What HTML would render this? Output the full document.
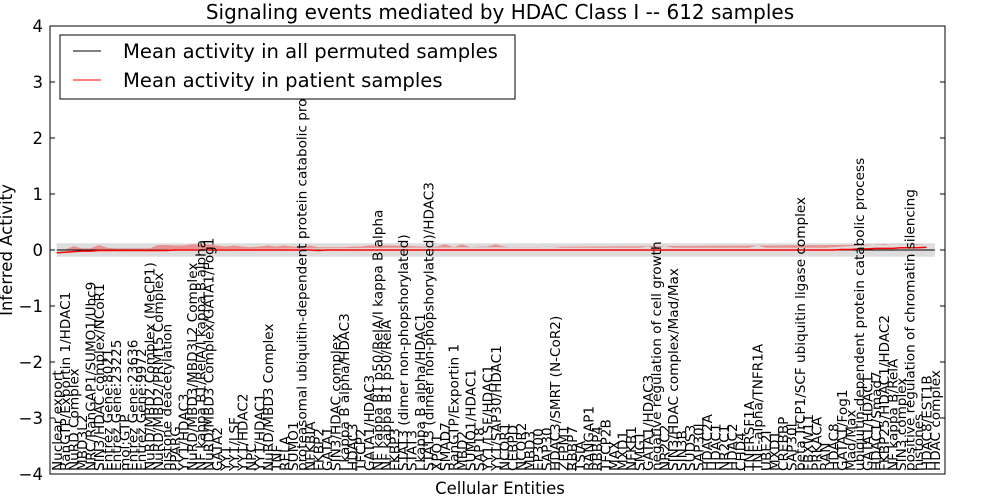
<!DOCTYPE html>
<html><head><meta charset="utf-8"><style>
body{margin:0;background:#fff;}
svg{display:block;font-family:"DejaVu Sans","Liberation Sans",sans-serif;}
</style></head><body>
<svg id="chart" width="1000" height="500">
<rect width="1000" height="500" fill="#fff"/>
<g id="bands"></g><g id="lines"></g><g id="xlabels"></g>
<rect x="0" y="0" width="1000" height="25" fill="#fff"/>
<text x="500" y="19" text-anchor="middle" font-size="20">Signaling events mediated by HDAC Class I -- 612 samples</text>
<rect x="50" y="26" width="895" height="448" fill="none" stroke="#000" stroke-width="1"/>
<g id="yaxis"></g>
<text transform="translate(12,250) rotate(-90)" text-anchor="middle" font-size="16.5">Inferred Activity</text>
<text x="500" y="494" text-anchor="middle" font-size="16.5">Cellular Entities</text>
<g>
<rect x="60" y="35" width="455" height="64" fill="#fff" stroke="#000"/>
<line x1="73" y1="51" x2="101" y2="51" stroke="#000"/>
<text x="123" y="58" font-size="19.6">Mean activity in all permuted samples</text>
<line x1="73" y1="80" x2="101" y2="80" stroke="#f00"/>
<text x="123" y="87" font-size="19.6">Mean activity in patient samples</text>
</g>
</svg>
<script>
const categories=["Nuclear export","RanGTP/Exportin 1/HDAC1","NuRD Complex","MBD3L2","NRC/RanGAP1/SUMO1/Ubc9","SIN3/HDAC complex/NCoR1","Entrez Gene:8021","Entrez Gene:23225","mol:GTP","Entrez Gene:23636","Entrez Gene:9972","NuRD/MBD2 Complex (MeCP1)","NuRD/MBD2/PRMT5 Complex","histone deacetylation","PPARG","YY1/HDAC3","NuRD/MBD3/MBD3L2 Complex","NF kappa B1/RelA/I kappa B alpha","NuRD/MBD3 Complex/GATA1/Fog1","GATA2","YY1","YY1/LSF","YY1/HDAC2","NPC","YY1/HDAC1","NuRD/MBD3 Complex","TNF","RELA","SUMO1","proteasomal ubiquitin-dependent protein catabolic process","NFKBIA","FKBP2","GATA1","SIN3/HDAC complex","I kappa B alpha/HDAC3","HDAC3","TFCP2","GATA1/HDAC3","NF kappa B1 p50/RelA/I kappa B alpha","NF kappa B1 p50/RelA","FKBP3","STAT3 (dimer non-phopshorylated)","STAT3","I kappa B alpha/HDAC1","STAT3 (dimer non-phopshorylated)/HDAC3","XPO1","SMAD7","RanGTP/Exportin 1","MBD2","SUMO1/HDAC1","SAP18","YY1/LSF/HDAC1","YY1/SAP30/HDAC1","NCOR1","CEBPD","NCOR2","MBD3","EP300","SAP30","HDAC3/SMRT (N-CoR2)","ZFPM1","RBBP7","TSIA","RANGAP1","RBBP4","TFCP2B","MAX","MXD1","NFKB1","SMG1","GATA1/HDAC3","negative regulation of cell growth","NR2C2","SIN3/HDAC complex/Mad/Max","SIN3B","SUDS3","SAP30L","HDAC2A","HDAC1","NR2C1","HDAC2","CHD4","TNFRSF1A","TNF-alpha/TNFR1A","UBE2I","MXD1","CREBBP","SAP30L","beta TrCP1/SCF ubiquitin ligase complex","FBXW11","PRKACA","RAN","HDAC8","GATA1/Fog1","Mad/Max","ubiquitin-dependent protein catabolic process","GATA1/HDAC1","HDAC1/Smad7","FKBP25/HDAC1/HDAC2","NF kappa B/RelA","SIN3 complex","positive regulation of chromatin silencing","histones","HDAC8/EST1B","HDAC complex"];
const patientMean=[-0.05,-0.04,-0.03,-0.02,-0.02,-0.01,-0.01,-0.01,-0.01,-0.01,-0.01,-0.01,-0.01,-0.01,0,0,0,0,0,0,0,0,0,0,0,0,0,0,0,0,0,-0.01,0,0,0,0,0,0,0,0,0,0,0,0,0,0,0,0,0,0,0,0,0,0,0,0,0,0,0,0,0,0,0,0,0,0,0,0,0,0,0,0,0,0,0,0,0,0,0,0,0,0,0,0,0,0,0,0,0,0,0,0,0,0.01,0.01,0.02,0.02,0.03,0.03,0.03,0.04,0.04,0.04,0.05];
const patientSpread=[0.05,0.05,0.1,0.05,0.05,0.1,0.05,0.04,0.04,0.04,0.04,0.04,0.1,0.1,0.08,0.08,0.1,0.1,0.1,0.08,0.06,0.08,0.06,0.05,0.06,0.08,0.06,0.08,0.06,0.06,0.08,0.06,0.05,0.05,0.05,0.06,0.06,0.08,0.08,0.08,0.08,0.07,0.07,0.06,0.06,0.06,0.1,0.05,0.1,0.05,0.06,0.06,0.1,0.06,0.05,0.05,0.05,0.05,0.06,0.05,0.04,0.04,0.04,0.04,0.04,0.04,0.04,0.04,0.04,0.04,0.06,0.04,0.07,0.04,0.04,0.04,0.04,0.04,0.04,0.04,0.04,0.04,0.04,0.08,0.04,0.04,0.04,0.04,0.04,0.04,0.04,0.04,0.05,0.05,0.06,0.06,0.06,0.07,0.08,0.06,0.06,0.05,0.05,0.05];
const permSpread=0.12;
const yTicks=[4,3,2,1,0,-1,-2,-3,-4];
const X0=50,X1=945,Y0=26,Y1=474,N=categories.length;
const xs=i=>X0+(i+0.8)*(X1-X0)/(N+1);
const ys=v=>Y0+(4-v)*(Y1-Y0)/8;
const NS="http://www.w3.org/2000/svg";
function mk(t,a,p){const e=document.createElementNS(NS,t);for(const k in a)e.setAttribute(k,a[k]);p.appendChild(e);return e;}
const bands=document.getElementById('bands'),lines=document.getElementById('lines'),xl=document.getElementById('xlabels'),ya=document.getElementById('yaxis');
let g="",r="",b1="";
categories.forEach((c,i)=>{g+=`${xs(i)},${ys(-permSpread)} `;});
for(let i=N-1;i>=0;i--)g+=`${xs(i)},${ys(permSpread)} `;
const gp=mk('polygon',{points:g,fill:'#bbb','fill-opacity':0.5},bands);


categories.forEach((c,i)=>{b1+=`${xs(i)},${ys(patientMean[i]+patientSpread[i])} `;});
for(let i=N-1;i>=0;i--)b1+=`${xs(i)},${ys(patientMean[i]-patientSpread[i])} `;
const rp=mk('polygon',{points:b1,fill:'#f00','fill-opacity':0.35},bands);


const bl=mk('line',{x1:xs(0),x2:xs(N-1),y1:ys(0),y2:ys(0),stroke:'#000','stroke-width':1},lines);


categories.forEach((c,i)=>{r+=`${xs(i)},${ys(patientMean[i])} `;});
const pl=mk('polyline',{points:r,fill:'none',stroke:'#f00','stroke-width':1.5},lines);


categories.forEach((c,i)=>{
 const x=xs(i);
 const t=mk('text',{transform:`translate(${x+5},471) rotate(-90)`,'font-size':13.6},xl);
 t.textContent=c;
 
 
});
yTicks.forEach(v=>{
 const y=ys(v);
 mk('line',{x1:X0,x2:X0+5,y1:y,y2:y,stroke:'#000'},ya);
 mk('line',{x1:X1-5,x2:X1,y1:y,y2:y,stroke:'#000'},ya);
 const t=mk('text',{x:X0-7,y:y+6,'text-anchor':'end','font-size':16.5},ya);
 t.textContent=v<0?'\u2212'+(-v):String(v);
 
 
});
</script>
</body></html>
